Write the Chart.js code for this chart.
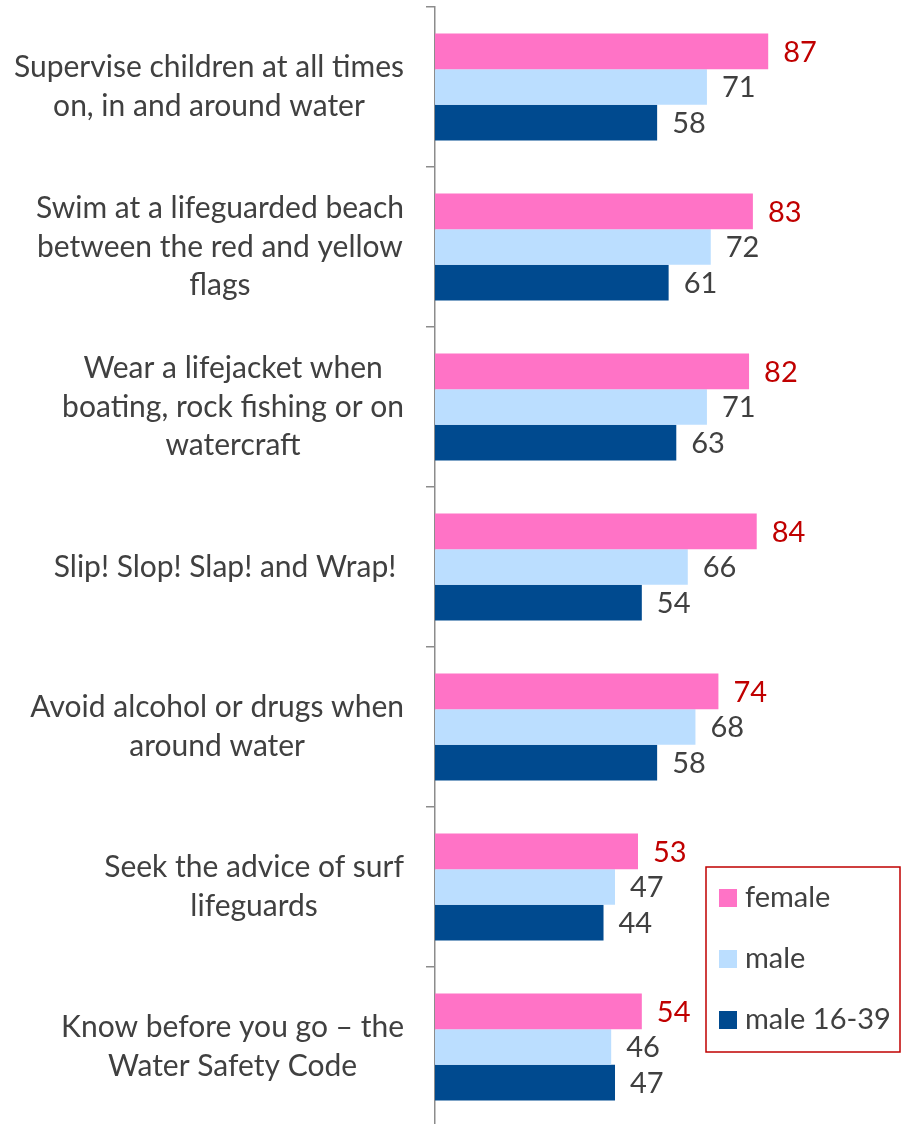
<!DOCTYPE html>
<html>
<head>
<meta charset="utf-8">
<script src="https://cdn.jsdelivr.net/npm/chart.js@4.4.1/dist/chart.umd.min.js"></script>
<style>
  html, body { margin: 0; padding: 0; background: #fff; overflow: hidden; }
  #wrap { position: absolute; left: 0; top: 0; width: 903px; height: 1130px; }
</style>
</head>
<body>
<div id="wrap"><canvas id="chart" width="903" height="1130"></canvas></div>
<script>
// ── data ─────────────────────────────────
const categories = [
    ['Supervise children at all times', 'on, in and around water'],
    ['Swim at a lifeguarded beach', 'between the red and yellow', 'flags'],
    ['Wear a lifejacket when', 'boating, rock fishing or on', 'watercraft'],
    ['Slip! Slop! Slap! and Wrap! '],
    ['Avoid alcohol or drugs when', 'around water'],
    ['Seek the advice of surf', 'lifeguards'],
    ['Know before you go – the', 'Water Safety Code'],
];
const female    = [87, 83, 82, 84, 74, 53, 54];
const male      = [71, 72, 71, 66, 68, 47, 46];
const male1639  = [58, 61, 63, 54, 58, 44, 47];
const seriesNames = ['female', 'male', 'male 16-39'];

const PINK  = '#FF73C6';
const LIGHT = '#BBDEFF';
const DARK  = '#004A8F';
const RED   = '#C00000';
const GREY  = '#404040';
const FONT  = 'Lato, "Open Sans", sans-serif';
const FS    = 29;   // values + legend
const CFS   = 30;   // category labels

// ── category labels: block right-aligned, lines centred ──
const catLabels = {
    id: 'catLabels',
    afterDraw(chart) {
        const ctx = chart.ctx, y = chart.scales.y;
        const right = 404, lineH = 38.5;
        ctx.save();
        ctx.font = CFS + 'px ' + FONT;
        ctx.fillStyle = GREY;
        ctx.textAlign = 'center';
        ctx.textBaseline = 'middle';
        categories.forEach((lines, i) => {
            const cy = y.getPixelForTick(i);
            const w = Math.max(...lines.map(l => ctx.measureText(l).width));
            const cx = right - w / 2;
            lines.forEach((l, k) => {
                ctx.fillText(l, cx, cy + (k - (lines.length - 1) / 2) * lineH);
            });
        });
        ctx.restore();
    }
};

// ── value labels ──────────────────────────
const valueLabels = {
    id: 'valueLabels',
    afterDatasetsDraw(chart) {
        const ctx = chart.ctx;
        ctx.save();
        ctx.font = FS + 'px ' + FONT;
        ctx.textAlign = 'left';
        ctx.textBaseline = 'middle';
        chart.data.datasets.forEach((ds, di) => {
            ctx.fillStyle = di === 0 ? RED : GREY;
            chart.getDatasetMeta(di).data.forEach((bar, i) => {
                ctx.fillText(String(ds.data[i]), bar.x + 15, bar.y + 1);
            });
        });
        ctx.restore();
    }
};

// ── boxed legend ──────────────────────────
const boxLegend = {
    id: 'boxLegend',
    afterDraw(chart) {
        const ctx = chart.ctx;
        const bx = 706, by = 867, bw = 194, bh = 185;
        ctx.save();
        ctx.strokeStyle = RED;
        ctx.lineWidth = 1.5;
        ctx.strokeRect(bx, by, bw, bh);
        ctx.font = FS + 'px ' + FONT;
        ctx.textBaseline = 'middle';
        ctx.textAlign = 'left';
        chart.data.datasets.forEach((ds, i) => {
            const cy = by + 31 + i * 61;
            ctx.fillStyle = ds.backgroundColor;
            ctx.fillRect(719, cy - 9, 18, 18);
            ctx.fillStyle = GREY;
            ctx.fillText(ds.label, 745, cy);
        });
        ctx.restore();
    }
};

new Chart(document.getElementById('chart'), {
    type: 'bar',
    data: {
        labels: categories,
        datasets: [
            { label: seriesNames[0], data: female,   backgroundColor: PINK },
            { label: seriesNames[1], data: male,     backgroundColor: LIGHT },
            { label: seriesNames[2], data: male1639, backgroundColor: DARK },
        ]
    },
    options: {
        indexAxis: 'y',
        responsive: false,
        animation: false,
        datasets: { bar: { barPercentage: 1, categoryPercentage: 0.67 } },
        layout: { padding: { top: 7, bottom: 3, left: 0, right: 85 } },
        plugins: { legend: { display: false }, tooltip: { enabled: false } },
        scales: {
            x: { display: false, min: 0, max: 100 },
            y: {
                afterFit: s => { s.width = 435; },
                ticks: { display: false },
                grid: {
                    drawOnChartArea: false,
                    drawTicks: true,
                    tickLength: 9,
                    color: '#8c8c8c',
                    lineWidth: 1.5,
                },
                border: { color: '#8c8c8c', width: 1.5 },
            }
        }
    },
    plugins: [catLabels, valueLabels, boxLegend]
});
</script>
</body>
</html>
